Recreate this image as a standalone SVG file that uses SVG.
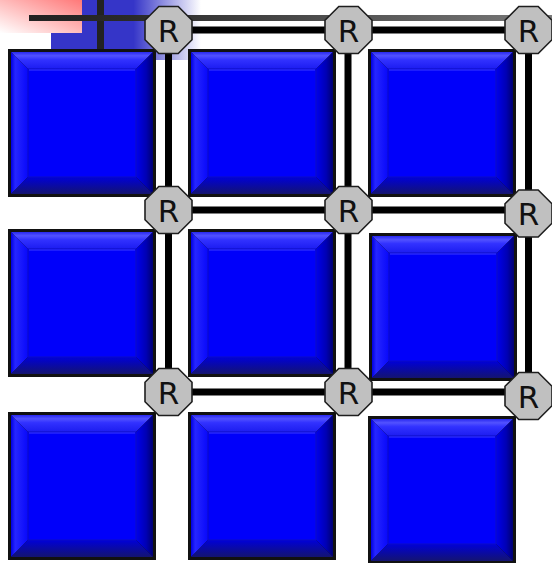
<svg xmlns="http://www.w3.org/2000/svg" width="552" height="563" viewBox="0 0 552 563">
<style>
.wire{stroke:#000;stroke-width:7;fill:none}
.oct{fill:#c0c0c0;stroke:#1e1e1e;stroke-width:1.6}
.lbl{font-family:"DejaVu Sans","Liberation Sans",Arial,sans-serif;font-size:31px;fill:#111;text-anchor:middle}
</style>
<defs>
<linearGradient id="pink" x1="1" y1="0" x2="0" y2="1">
<stop offset="0" stop-color="#ff7878"/>
<stop offset="1" stop-color="#ffffff"/>
</linearGradient>
<linearGradient id="blueFade" x1="0" y1="0" x2="1" y2="0">
<stop offset="0" stop-color="#3535c8"/>
<stop offset="0.55" stop-color="#3535c8"/>
<stop offset="1" stop-color="#3535c8" stop-opacity="0"/>
</linearGradient>
<linearGradient id="topLine" x1="0" y1="0" x2="1" y2="0">
<stop offset="0" stop-color="#222"/>
<stop offset="0.2" stop-color="#2a2a2a"/>
<stop offset="1" stop-color="#7a7a7a"/>
</linearGradient>
<linearGradient id="bvTop" x1="0" y1="0" x2="0" y2="1">
<stop offset="0" stop-color="#2828f0"/>
<stop offset="0.22" stop-color="#5252ff"/>
<stop offset="0.45" stop-color="#3232ff"/>
<stop offset="1" stop-color="#1c1cf0"/>
</linearGradient>
<linearGradient id="bvLeft" x1="0" y1="0" x2="1" y2="0">
<stop offset="0" stop-color="#0000e0"/>
<stop offset="0.25" stop-color="#2626ff"/>
<stop offset="1" stop-color="#0808fa"/>
</linearGradient>
<linearGradient id="bvRight" x1="0" y1="0" x2="1" y2="0">
<stop offset="0" stop-color="#0000ec"/>
<stop offset="0.6" stop-color="#0000b4"/>
<stop offset="1" stop-color="#000070"/>
</linearGradient>
<linearGradient id="bvBot" x1="0" y1="0" x2="0" y2="1">
<stop offset="0" stop-color="#0000d8"/>
<stop offset="1" stop-color="#141470"/>
</linearGradient>
<g id="blk">
<rect x="0" y="0" width="148" height="148" fill="#111"/>
<polygon points="3,3 145,3 128,20 20,20" fill="url(#bvTop)"/>
<polygon points="3,3 20,20 20,128 3,145" fill="url(#bvLeft)"/>
<polygon points="145,3 145,145 128,128 128,20" fill="url(#bvRight)"/>
<polygon points="3,145 145,145 128,128 20,128" fill="url(#bvBot)"/>
<rect x="20" y="20" width="108" height="108" fill="#0000fa" stroke="#0c0cc4" stroke-width="1"/>
<line x1="21" y1="21" x2="127" y2="21" stroke="#3a3aff" stroke-width="1"/>
</g>
<polygon id="oct" class="oct" points="-9.7,-23.5 9.7,-23.5 23.5,-9.7 23.5,9.7 9.7,23.5 -9.7,23.5 -23.5,9.7 -23.5,-9.7"/>
</defs>
<g id="backdrop">
<rect x="51" y="0" width="150" height="60" fill="url(#blueFade)"/>
<rect x="0" y="0" width="82" height="33" fill="url(#pink)"/>
<rect x="97" y="0" width="7" height="50" fill="#222"/>
<rect x="29" y="15" width="523" height="6" fill="url(#topLine)"/>
</g>
<g id="blocks">
<g id="block-1-1"><use href="#blk" x="8" y="49"/></g>
<g id="block-1-2"><use href="#blk" x="188" y="49"/></g>
<g id="block-1-3"><use href="#blk" x="368" y="49"/></g>
<g id="block-2-1"><use href="#blk" x="8" y="229"/></g>
<g id="block-2-2"><use href="#blk" x="188" y="229"/></g>
<g id="block-2-3"><use href="#blk" x="369" y="233"/></g>
<g id="block-3-1"><use href="#blk" x="8" y="412"/></g>
<g id="block-3-2"><use href="#blk" x="188" y="412"/></g>
<g id="block-3-3"><use href="#blk" x="368" y="416"/></g>
</g>
<g id="connectors">
<line class="wire" x1="168.5" y1="30" x2="528.5" y2="30"/>
<line class="wire" x1="168.5" y1="210" x2="528.5" y2="210"/>
<line class="wire" x1="168.5" y1="392" x2="528.5" y2="392"/>
<line class="wire" x1="168.5" y1="30" x2="168.5" y2="392"/>
<line class="wire" x1="348" y1="30" x2="348" y2="392"/>
<line class="wire" x1="528.5" y1="30" x2="528.5" y2="396"/>
</g>
<g id="router-1-1"><use href="#oct" x="168.5" y="30"/><text class="lbl" x="168.5" y="41.5">R</text></g>
<g id="router-1-2"><use href="#oct" x="348.5" y="30"/><text class="lbl" x="348.5" y="41.5">R</text></g>
<g id="router-1-3"><use href="#oct" x="528.5" y="30"/><text class="lbl" x="528.5" y="41.5">R</text></g>
<g id="router-2-1"><use href="#oct" x="168.5" y="210"/><text class="lbl" x="168.5" y="221.5">R</text></g>
<g id="router-2-2"><use href="#oct" x="348.5" y="210"/><text class="lbl" x="348.5" y="221.5">R</text></g>
<g id="router-2-3"><use href="#oct" x="528.5" y="213.5"/><text class="lbl" x="528.5" y="225">R</text></g>
<g id="router-3-1"><use href="#oct" x="168.5" y="392"/><text class="lbl" x="168.5" y="403.5">R</text></g>
<g id="router-3-2"><use href="#oct" x="348.5" y="392"/><text class="lbl" x="348.5" y="403.5">R</text></g>
<g id="router-3-3"><use href="#oct" x="528.5" y="396"/><text class="lbl" x="528.5" y="407.5">R</text></g>
</svg>
